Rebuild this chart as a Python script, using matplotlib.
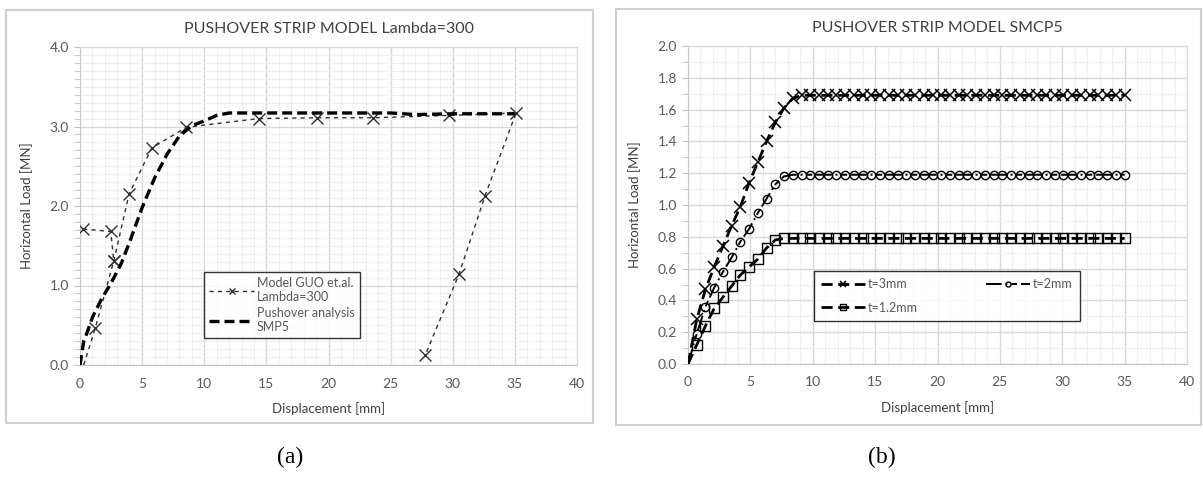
import matplotlib
matplotlib.use("Agg")
import matplotlib.pyplot as plt
from matplotlib.patches import Rectangle
from matplotlib.ticker import MultipleLocator, FormatStrFormatter

# ==========================================================
# Datos
# ==========================================================

# (a) Model GUO et.al. Lambda=300  - curva principal
guo_x = [0.30, 1.24, 2.72, 3.95, 5.78, 8.56, 14.4, 19.1, 23.6, 29.7, 35.1, 32.6, 30.5, 27.8]
guo_y = [0.00, 0.47, 1.31, 2.15, 2.73, 2.99, 3.10, 3.11, 3.11, 3.14, 3.17, 2.13, 1.14, 0.13]

# (a) tramo inicial suelto del modelo GUO
guo2_x = [0.25, 2.47, 2.72]
guo2_y = [1.71, 1.68, 1.31]

# (a) Pushover analysis SMP5
push_x = [0.0, 0.3, 0.6, 1.0, 1.7, 2.5, 3.3, 4.0, 5.0, 6.0, 7.0, 8.0, 9.0,
          10.0, 11.0, 12.0, 15.0, 20.0, 25.0, 27.0, 30.0, 35.0]
push_y = [0.00, 0.30, 0.42, 0.60, 0.82, 1.03, 1.27, 1.55, 1.98, 2.35, 2.65, 2.88, 3.01,
          3.07, 3.14, 3.17, 3.17, 3.17, 3.17, 3.15, 3.16, 3.16]

# (b) desplazamientos comunes a las tres series
disp_b = [0.0, 0.7, 1.4, 2.1, 2.8, 3.5, 4.2, 4.9, 5.6, 6.3, 7.0, 7.7, 8.4, 9.1, 9.8,
          10.5, 11.2, 11.9, 12.6, 13.3, 14.0, 14.7, 15.4, 16.1, 16.8, 17.5, 18.2,
          18.9, 19.6, 20.3, 21.0, 21.7, 22.4, 23.1, 23.8, 24.5, 25.2, 25.9, 26.6,
          27.3, 28.0, 28.7, 29.4, 30.1, 30.8, 31.5, 32.2, 32.9, 33.6, 34.3, 35.0]

t3_y = [0.00, 0.28, 0.47, 0.61, 0.74, 0.87, 0.99, 1.14, 1.27, 1.40, 1.52, 1.61, 1.67,
        1.69, 1.69, 1.69, 1.69, 1.69, 1.69, 1.69, 1.69, 1.69, 1.69, 1.69, 1.69, 1.69,
        1.69, 1.69, 1.69, 1.69, 1.69, 1.69, 1.69, 1.69, 1.69, 1.69, 1.69, 1.69, 1.69,
        1.69, 1.69, 1.69, 1.69, 1.69, 1.69, 1.69, 1.69, 1.69, 1.69, 1.69, 1.69]

t2_y = [0.00, 0.19, 0.36, 0.48, 0.58, 0.67, 0.77, 0.85, 0.95, 1.04, 1.13, 1.18, 1.19,
        1.19, 1.19, 1.19, 1.19, 1.19, 1.19, 1.19, 1.19, 1.19, 1.19, 1.19, 1.19, 1.19,
        1.19, 1.19, 1.19, 1.19, 1.19, 1.19, 1.19, 1.19, 1.19, 1.19, 1.19, 1.19, 1.19,
        1.19, 1.19, 1.19, 1.19, 1.19, 1.19, 1.19, 1.19, 1.19, 1.19, 1.19, 1.19]

t12_y = [0.00, 0.12, 0.24, 0.35, 0.42, 0.49, 0.56, 0.61, 0.66, 0.73, 0.78, 0.79, 0.79,
         0.79, 0.79, 0.79, 0.79, 0.79, 0.79, 0.79, 0.79, 0.79, 0.79, 0.79, 0.79, 0.79,
         0.79, 0.79, 0.79, 0.79, 0.79, 0.79, 0.79, 0.79, 0.79, 0.79, 0.79, 0.79, 0.79,
         0.79, 0.79, 0.79, 0.79, 0.79, 0.79, 0.79, 0.79, 0.79, 0.79, 0.79, 0.79]

# ==========================================================
# Estilo general
# ==========================================================

plt.rcParams["font.family"] = ["Lato", "DejaVu Sans"]

TXT = "#404040"
TICK = "#595959"
GRID_MAJ = "#d9d9d9"
GRID_MIN = "#eeeeee"

fig = plt.figure(figsize=(12.03, 4.78), dpi=100)

W, H = 1203.0, 478.0


def px_axes(x0, x1, y0, y1):
    # convierte píxeles (origen arriba-izquierda) a fracciones de figura
    return fig.add_axes([x0 / W, 1 - y1 / H, (x1 - x0) / W, (y1 - y0) / H])


def frame(x0, x1, y0, y1):
    fig.patches.append(
        Rectangle((x0 / W, 1 - y1 / H), (x1 - x0) / W, (y1 - y0) / H,
                  transform=fig.transFigure, fill=False,
                  edgecolor="#d0d0d0", linewidth=1.5, zorder=0)
    )


def style_axes(ax, ymax, ymajor):
    ax.set_xlim(0, 40)
    ax.set_ylim(0, ymax)
    ax.xaxis.set_major_locator(MultipleLocator(5))
    ax.xaxis.set_minor_locator(MultipleLocator(1))
    ax.yaxis.set_major_locator(MultipleLocator(ymajor))
    ax.yaxis.set_minor_locator(MultipleLocator(0.1))
    ax.yaxis.set_major_formatter(FormatStrFormatter("%.1f"))
    ax.grid(which="major", color=GRID_MAJ, linewidth=1.0, zorder=0)
    ax.grid(which="minor", color=GRID_MIN, linewidth=0.8, zorder=0)
    ax.set_axisbelow(True)
    for side in ["top", "right"]:
        ax.spines[side].set_color(GRID_MAJ)
    ax.spines["left"].set_color("#c8c8c8")
    ax.spines["bottom"].set_color("#c0c0c0")
    ax.tick_params(axis="x", which="both", length=0, pad=9,
                   labelsize=10, labelcolor=TICK)
    ax.tick_params(axis="y", which="both", length=4, color="#c0c0c0",
                   pad=4, labelsize=10, labelcolor=TICK)
    ax.set_xlabel("Displacement [mm]", fontsize=9.5, color=TXT, labelpad=9)
    ax.set_ylabel("Horizontal Load [MN]", fontsize=9.5, color=TXT, labelpad=12)


# ==========================================================
# (a) PUSHOVER STRIP MODEL Lambda=300
# ==========================================================

frame(6, 593, 10, 423)
ax1 = px_axes(80, 577, 47, 365)
style_axes(ax1, 4.0, 1.0)

ax1.plot(guo_x, guo_y, color="#303030", linewidth=1.0, dashes=(3, 3),
         marker="x", markersize=9, markeredgewidth=1.0,
         markevery=list(range(1, len(guo_x))),
         label="Model GUO et.al.\nLambda=300", zorder=3)
ax1.plot(guo2_x, guo2_y, color="#303030", linewidth=1.0, dashes=(3, 3),
         marker="x", markersize=9, markeredgewidth=1.0, zorder=3)
ax1.plot(push_x, push_y, color="black", linewidth=2.4, dashes=(3, 1.5),
         label="Pushover analysis\nSMP5", zorder=4)

ax1.set_title("PUSHOVER STRIP MODEL Lambda=300", fontsize=11.5, color=TXT, pad=10)

leg1 = ax1.legend(loc="lower left", bbox_to_anchor=(0.25, 0.085),
                  fontsize=9, frameon=True, fancybox=False, edgecolor="black",
                  handlelength=3.6, borderpad=0.4, labelspacing=0.3,
                  handletextpad=0.2, borderaxespad=0, markerscale=0.55)
leg1.get_frame().set_linewidth(1.0)
for t in leg1.get_texts():
    t.set_color(TICK)

# ==========================================================
# (b) PUSHOVER STRIP MODEL SMCP5
# ==========================================================

frame(616, 1201, 9, 425)
ax2 = px_axes(688, 1187, 46, 364)
style_axes(ax2, 2.0, 0.2)

l3, = ax2.plot(disp_b, t3_y, color="black", linewidth=2.0, dashes=(4, 2),
               marker="x", markersize=8, markeredgewidth=1.1,
               markevery=list(range(1, len(disp_b))), label="t=3mm", zorder=5)
l2, = ax2.plot(disp_b, t2_y, color="black", linewidth=1.4,
               dashes=(8, 2, 1, 2, 3, 2), marker="o", markersize=6,
               markerfacecolor="none", markeredgewidth=1.0,
               markevery=list(range(1, len(disp_b))), label="t=2mm", zorder=4)
l12, = ax2.plot(disp_b, t12_y, color="black", linewidth=2.0, dashes=(4, 2),
                marker="s", markersize=6.5, markerfacecolor="none",
                markeredgewidth=1.0,
                markevery=list(range(1, len(disp_b))), label="t=1.2mm", zorder=3)

ax2.set_title("PUSHOVER STRIP MODEL SMCP5", fontsize=11.5, color=TXT, pad=10)

leg2 = ax2.legend(handles=[l3, l12, l2], labels=["t=3mm", "t=1.2mm", "t=2mm"],
                  ncol=2, loc="upper left", bbox_to_anchor=(0.2525, 0.2925),
                  fontsize=9, frameon=True, fancybox=False, edgecolor="black",
                  handlelength=3.5, borderpad=0.6, labelspacing=0.9,
                  handletextpad=0.2, columnspacing=5.5, borderaxespad=0,
                  markerscale=0.6)
leg2.get_frame().set_linewidth(1.0)
for t in leg2.get_texts():
    t.set_color(TICK)

# ==========================================================
# Etiquetas (a) y (b)
# ==========================================================

fig.text(290 / W, 1 - 457 / H, "(a)", fontsize=17, family="Liberation Serif",
         ha="center", va="center", color="black")
fig.text(882 / W, 1 - 457 / H, "(b)", fontsize=17, family="Liberation Serif",
         ha="center", va="center", color="black")

fig.savefig("out.png", dpi=100)
